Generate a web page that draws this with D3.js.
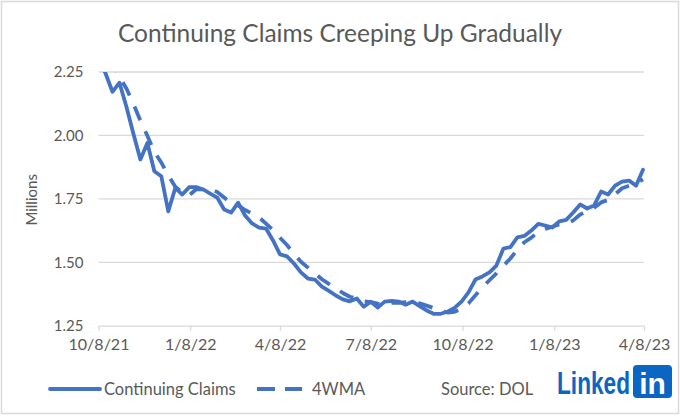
<!DOCTYPE html>
<html>
<head>
<meta charset="utf-8">
<script src="https://cdn.jsdelivr.net/npm/d3@7"></script>
<style>
  html, body { margin: 0; padding: 0; background: #fff; }
  svg { display: block; }
  text { font-family: Lato, "Open Sans", sans-serif; fill: #595959; }
</style>
</head>
<body>
<svg id="chart" width="680" height="417"></svg>
<script>
// ---- Data (millions) ----
const startDate = "2021-10-08";            // first weekly observation
const claims = [
  2.300, 2.245, 2.172, 2.208, 2.113, 2.007, 1.905, 1.970, 1.859, 1.839,
  1.701, 1.793, 1.767, 1.796, 1.796, 1.787, 1.771, 1.755, 1.708, 1.696,
  1.735, 1.684, 1.653, 1.637, 1.633, 1.586, 1.531, 1.523, 1.495, 1.460,
  1.436, 1.432, 1.404, 1.387, 1.369, 1.354, 1.346, 1.357, 1.325, 1.345,
  1.322, 1.345, 1.348, 1.345, 1.333, 1.345, 1.327, 1.310, 1.297, 1.297,
  1.305, 1.320, 1.345, 1.381, 1.432, 1.444, 1.460, 1.487, 1.554, 1.560,
  1.598, 1.604, 1.625, 1.651, 1.645, 1.637, 1.661, 1.667, 1.696, 1.728,
  1.712, 1.724, 1.779, 1.767, 1.802, 1.818, 1.822, 1.802, 1.865
];
const wma4 = [
  2.400, 2.340, 2.285, 2.231, 2.185, 2.125, 2.058, 1.999, 1.935, 1.893,
  1.842, 1.798, 1.775, 1.764, 1.788, 1.787, 1.788, 1.777, 1.755, 1.733,
  1.724, 1.706, 1.692, 1.677, 1.652, 1.627, 1.597, 1.568, 1.534, 1.502,
  1.479, 1.456, 1.433, 1.415, 1.398, 1.379, 1.364, 1.357, 1.346, 1.343,
  1.337, 1.334, 1.340, 1.340, 1.343, 1.343, 1.338, 1.329, 1.320, 1.308,
  1.302, 1.305, 1.317, 1.338, 1.370, 1.401, 1.429, 1.456, 1.486, 1.515,
  1.550, 1.579, 1.597, 1.620, 1.631, 1.640, 1.649, 1.653, 1.665, 1.688,
  1.701, 1.715, 1.736, 1.746, 1.768, 1.792, 1.802, 1.811, 1.827
];
const xTickLabels = ["10/8/21", "1/8/22", "4/8/22", "7/8/22", "10/8/22", "1/8/23", "4/8/23"];
const yTicks = [1.25, 1.50, 1.75, 2.00, 2.25];
const seriesNames = ["Continuing Claims", "4WMA"];
const title = "Continuing Claims Creeping Up Gradually";
const yTitle = "Millions";
const sourceText = "Source: DOL";

// ---- Setup ----
const parse = d3.timeParse("%-m/%-d/%y");
const start = d3.timeParse("%Y-%m-%d")(startDate);
const dates = claims.map((_, i) => d3.timeDay.offset(start, 7 * i));
const tickDates = xTickLabels.map(parse);

const svg = d3.select("#chart");
const W = 680, H = 417;
const blue = "#4472C4";
const gridColor = "#D9D9D9";

// outer border
svg.append("rect").attr("x", 1.5).attr("y", 1.5).attr("width", W - 3).attr("height", H - 5)
  .attr("fill", "#fff").attr("stroke", "#D9D9D9").attr("stroke-width", 1.5);

const plot = { left: 98.5, right: 644, top: 72, bottom: 325.7 };

const x = d3.scaleTime()
  .domain([tickDates[0], tickDates[tickDates.length - 1]])
  .range([plot.left, plot.right]);
const y = d3.scaleLinear().domain([1.25, 2.25]).range([plot.bottom, plot.top]);

// title
const t = svg.append("text").attr("x", W / 2).attr("y", 42)
  .attr("text-anchor", "middle").style("font-size", "24px").style("fill", "#595959")
  .text(title);
const tw = t.node().getComputedTextLength();
t.style("font-size", (24 * 444 / tw).toFixed(2) + "px");

// gridlines
svg.append("g").selectAll("line").data(yTicks.slice(1)).join("line")
  .attr("x1", plot.left).attr("x2", plot.right)
  .attr("y1", d => y(d)).attr("y2", d => y(d))
  .attr("stroke", gridColor).attr("stroke-width", 1.3);

// y axis labels
const yAxis = d3.axisLeft(y).tickValues(yTicks).tickFormat(d3.format(".2f")).tickSize(0).tickPadding(15);
const gy = svg.append("g").attr("transform", `translate(${plot.left},0)`).call(yAxis);
gy.select(".domain").remove();
gy.selectAll("text").style("font-size", "15px").style("fill", "#595959")
  .style("font-family", "Lato, sans-serif");

// x axis
const xAxis = d3.axisBottom(x).tickValues(tickDates)
  .tickFormat((d, i) => xTickLabels[i]).tickSize(5).tickSizeOuter(0).tickPadding(8);
const gx = svg.append("g").attr("transform", `translate(0,${plot.bottom})`).call(xAxis);
gx.select(".domain").attr("stroke", gridColor).attr("stroke-width", 1.3);
gx.selectAll(".tick line").attr("stroke", gridColor).attr("stroke-width", 1.3);
gx.selectAll("text").style("font-size", "16px").style("fill", "#595959")
  .style("font-family", "Lato, sans-serif");

// y title
svg.append("text")
  .attr("transform", `translate(37,${(plot.top + plot.bottom) / 2 + 1}) rotate(-90)`)
  .attr("text-anchor", "middle").style("font-size", "15px").text(yTitle);

// clip
svg.append("clipPath").attr("id", "clip").append("rect")
  .attr("x", plot.left - 2).attr("y", plot.top).attr("width", plot.right - plot.left + 6)
  .attr("height", plot.bottom - plot.top + 10);

const line = d3.line().x((d, i) => x(dates[i])).y(d => y(d)).curve(d3.curveLinear);
const g = svg.append("g").attr("clip-path", "url(#clip)");
g.append("path").datum(wma4).attr("d", line)
  .attr("fill", "none").attr("stroke", blue).attr("stroke-width", 3.8)
  .attr("stroke-dasharray", "15,12").attr("stroke-linejoin", "round");
g.append("path").datum(claims).attr("d", line)
  .attr("fill", "none").attr("stroke", blue).attr("stroke-width", 3.8)
  .attr("stroke-linejoin", "round").attr("stroke-linecap", "round");

// legend
const ly = 389;
const lg = svg.append("g");
lg.append("line").attr("x1", 50).attr("x2", 100).attr("y1", ly).attr("y2", ly)
  .attr("stroke", blue).attr("stroke-width", 3.8).attr("stroke-linecap", "round");
lg.append("text").attr("x", 104).attr("y", ly + 6).style("font-size", "16.5px").text(seriesNames[0]);
lg.append("line").attr("x1", 257).attr("x2", 302).attr("y1", ly).attr("y2", ly)
  .attr("stroke", blue).attr("stroke-width", 3.8).attr("stroke-dasharray", "18,10");
lg.append("text").attr("x", 312).attr("y", ly + 6).style("font-size", "16.5px").text(seriesNames[1]);
lg.append("text").attr("x", 441).attr("y", ly + 6).style("font-size", "16.5px").text(sourceText);

// LinkedIn logo (word scaled horizontally to fit before the badge)
const logo = svg.append("g");
const lt = logo.append("text").attr("x", 0).attr("y", 0)
  .style("font-family", "'Liberation Sans', Arial, sans-serif").style("font-weight", "bold")
  .style("font-size", "31px").style("fill", "#0A66C2")
  .text("Linked");
const sx = 73 / lt.node().getComputedTextLength();
lt.attr("transform", `translate(557,394) scale(${sx.toFixed(3)},1)`);
logo.append("rect").attr("x", 633).attr("y", 365).attr("width", 39).attr("height", 33)
  .attr("rx", 4).attr("fill", "#0A66C2");
logo.append("text").attr("x", 652.5).attr("y", 394).attr("text-anchor", "middle")
  .style("font-family", "'Liberation Sans', Arial, sans-serif").style("font-weight", "bold")
  .style("font-size", "30px").style("fill", "#fff").text("in");
</script>
</body>
</html>
